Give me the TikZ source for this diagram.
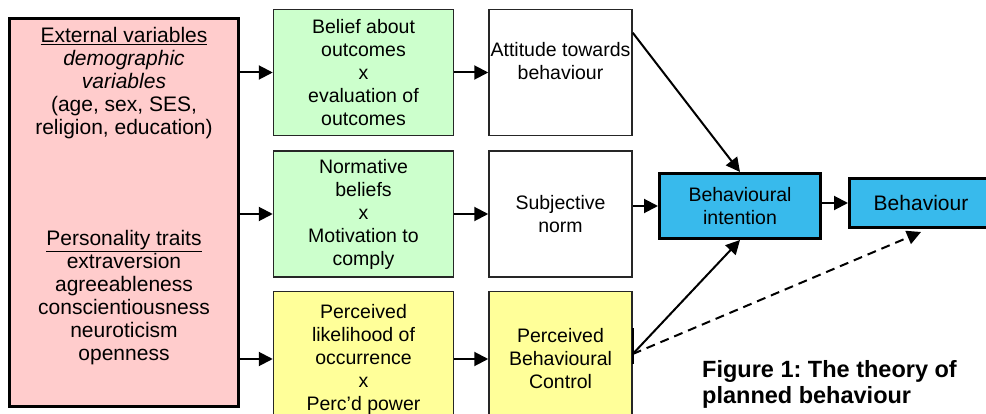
\documentclass[tikz,border=0pt]{standalone}
\usepackage{fontspec}
\setmainfont{Liberation Sans}
\usetikzlibrary{arrows.meta, positioning}
\frenchspacing

\definecolor{pinkfill}{RGB}{255,204,204}
\definecolor{greenfill}{RGB}{204,255,204}
\definecolor{yellowfill}{RGB}{255,255,153}
\definecolor{bluefill}{RGB}{56,186,236}

\tikzset{
	boxbase/.style={draw=black!85, line width=1.5pt, align=center, inner sep=0pt, font=\fontsize{19.5}{23}\selectfont},
	greenbox/.style={boxbase, fill=greenfill, minimum width=180pt, minimum height=126pt},
	whitebox/.style={boxbase, fill=white, minimum width=143pt, minimum height=126pt},
	yellowbox/.style={boxbase, fill=yellowfill, minimum height=135pt},
	bluebox/.style={boxbase, draw=black, line width=3pt, fill=bluefill},
	conn/.style={-{Triangle[length=14pt,width=14pt]}, line width=2pt},
}

\begin{document}
\begin{tikzpicture}[x=1pt, y=-1pt]
	\clip (0,0) rectangle (986,414);
	\useasboundingbox (0,0) rectangle (986,414);

	% left column
	\node[draw=black, line width=3pt, fill=pinkfill, minimum width=229pt, minimum height=388pt] (ext) at (124,212.5) {};
	\node[align=center, anchor=north, inner sep=0pt, font=\fontsize{21}{23}\selectfont] (extvar) at (124,27)
	{\underline{External variables}\\ \textit{demographic}\\ \textit{variables}\\ (age, sex, SES,\\ religion, education)\\[88pt]
	 \underline{Personality traits}\\ extraversion\\ agreeableness\\ conscientiousness\\ neuroticism\\ openness};

	% beliefs
	\node[greenbox] (bel) at (363.5,72.5) {Belief about\\ outcomes\\ x\\ evaluation of\\ outcomes};
	\node[greenbox, below=14pt of bel] (nor) {Normative\\ beliefs\\ x\\ Motivation to\\ comply};
	\node[yellowbox, minimum width=180pt, below=13pt of nor] (lik) {Perceived\\ likelihood of\\ occurrence\\ x\\ Perc’d power};

	% attitudes
	\node[whitebox, right=34pt of bel] (att) {Attitude towards\\ behaviour\\ \mbox{}};
	\node[whitebox, right=34pt of nor] (sub) {Subjective\\ norm};
	\node[yellowbox, minimum width=143pt, right=34pt of lik] (pbc) {Perceived\\ Behavioural\\ Control};

	% intention and behaviour
	\node[bluebox, minimum width=161pt, minimum height=65pt] (bi) at (740,206) {Behavioural\\ intention};
	\node[bluebox, minimum width=143pt, minimum height=49pt, font=\fontsize{21}{23}\selectfont] (beh) at (921,203) {Behaviour};

	\node[font=\bfseries\fontsize{23.5}{26}\selectfont, align=left, anchor=north west, inner sep=0pt] (cap) at (702,360)
	{Figure 1: The theory of\\ planned behaviour};

	\draw[line width=2.5pt] ([yshift=30.5pt]pbc.east) -- ([yshift=-4.5pt]pbc.east);

	\draw[conn] (bel.west -| ext.east) -- (bel.west);
	\draw[conn] (nor.west -| ext.east) -- (nor.west);
	\draw[conn] (lik.west -| ext.east) -- (lik.west);
	\draw[conn] (bel.east) -- (att.west);
	\draw[conn] (nor.east) -- (sub.west);
	\draw[conn] (lik.east) -- (pbc.west);
	\draw[conn] (bi.west -| sub.east) -- (bi.west);
	\draw[conn] (beh.west -| bi.east) -- (beh.west);
	\draw[conn] ([yshift=-24pt]att.north east) -- (bi.north);
	\draw[conn] ([yshift=5pt]pbc.east) -- (bi.south);
	\draw[conn, dash pattern=on 9pt off 6pt] ([yshift=5pt]pbc.east) -- ([yshift=-3pt]beh.south);
\end{tikzpicture}
\end{document}
